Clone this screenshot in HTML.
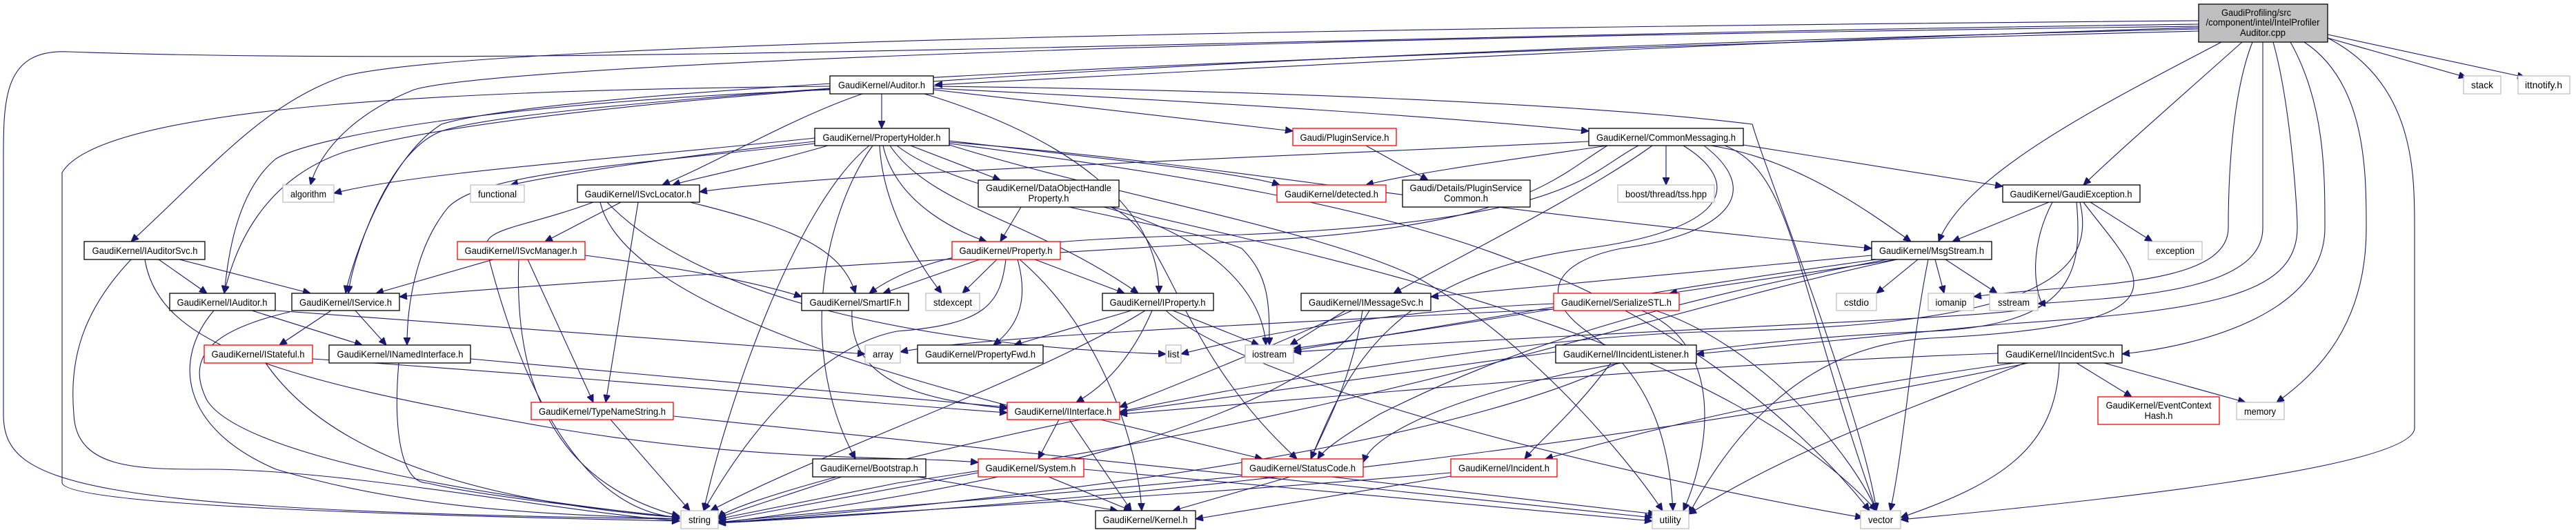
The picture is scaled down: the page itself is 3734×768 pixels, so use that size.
<!DOCTYPE html>
<html><head><meta charset="utf-8"><style>
html,body{margin:0;padding:0;background:#fff;width:3734px;height:768px;overflow:hidden}
svg{display:block}
text{font-family:"Liberation Sans",sans-serif;font-size:14px;fill:#000}
.e path{fill:none;stroke:#191970;stroke-width:1.1}
.b{fill:#fff;stroke:#000;stroke-width:1.3}
.r{fill:#fff;stroke:#ff0000;stroke-width:1.3}
.g{fill:#fff;stroke:#bfbfbf;stroke-width:1.3}
</style></head><body>
<svg width="3734" height="768" viewBox="0 0 3734 768" xmlns="http://www.w3.org/2000/svg">
<defs><marker id="a" markerWidth="12" markerHeight="10" refX="11" refY="5" orient="auto" markerUnits="userSpaceOnUse"><path d="M0,0 L11,5 L0,10 z" fill="#191970" stroke="#191970"/></marker></defs>
<g class="e" marker-end="url(#a)">
<path d="M3187 40 C2500 60,1800 100,1355 123"/>
<path d="M3187 30 C2000 40,700 60,500 110 C380 150,300 250,190 350"/>
<path d="M3187 38 C1500 60,700 100,600 130 C500 170,460 230,450 268"/>
<path d="M3187 35 C2000 50,800 100,100 75 C0 70,5 150,5 250 L5 600 C5 700,100 740,985 752"/>
<path d="M3187 45 C1800 80,800 130,640 180 C560 230,510 380,501 425"/>
<path d="M3187 42 C2000 70,800 130,500 220 C380 260,340 360,325 425"/>
<path d="M3250 61 C3150 150,3070 220,3020 268"/>
<path d="M3220 61 C3050 150,2850 250,2810 350"/>
<path d="M3265 61 C3230 150,3230 300,3230 330 C3230 420,3000 410,2861 430"/>
<path d="M3280 61 L3280 330 C3280 420,3100 430,2954 440"/>
<path d="M3295 61 C3320 150,3330 300,3330 330 C3330 430,3200 450,2900 470 C2700 490,2550 505,2459 513"/>
<path d="M3320 61 C3370 150,3370 250,3370 330 C3370 450,3200 500,3076 513"/>
<path d="M3340 61 C3430 120,3430 250,3430 330 C3430 470,3360 540,3300 583"/>
<path d="M3374 55 C3500 120,3500 250,3500 330 L3500 620 C3500 680,3000 730,2755 753"/>
<path d="M3374 55 L3575 112"/>
<path d="M3374 50 L3660 112"/>
<path d="M1278 136 L1278 186"/>
<path d="M1250 136 C1150 170,1050 230,960 268"/>
<path d="M1353 128 C1800 150,2100 170,2303 190"/>
<path d="M1353 130 C1600 160,1800 180,1874 190"/>
<path d="M1340 136 C1550 200,1680 300,1680 425"/>
<path d="M1203 128 C900 150,700 170,640 190 C560 220,510 380,505 425"/>
<path d="M1203 125 C700 130,150 150,90 250 L90 700 C100 730,500 745,985 755"/>
<path d="M1203 130 C700 150,450 200,400 230 C340 280,330 380,325 425"/>
<path d="M1353 125 C1800 130,2300 150,2540 180 C2560 250,2700 600,2720 740"/>
<path d="M1181 200 C900 230,600 250,484 280"/>
<path d="M1181 205 C950 230,800 255,740 268"/>
<path d="M1200 211 C1100 240,1000 260,975 268"/>
<path d="M1181 208 C900 240,700 250,650 300 C600 360,590 450,590 500"/>
<path d="M1260 211 C1150 300,1050 600,1020 740"/>
<path d="M1265 211 C1200 300,1150 500,1240 665"/>
<path d="M1275 211 C1280 300,1330 380,1365 425"/>
<path d="M1280 211 C1300 300,1400 340,1430 350"/>
<path d="M1290 211 C1350 300,1500 320,1650 425"/>
<path d="M1320 211 L1450 261"/>
<path d="M1376 204 C1600 230,1800 250,1855 268"/>
<path d="M1300 211 C1400 290,1700 320,1800 360 C1840 400,1840 440,1840 500"/>
<path d="M1376 208 C1700 250,2000 300,2200 380 C2400 450,2600 600,2710 740"/>
<path d="M1376 210 C1600 280,1900 330,2050 400 C2200 480,2350 650,2410 740"/>
<path d="M1376 206 C1800 240,2000 290,2713 360"/>
<path d="M1980 211 L2070 261"/>
<path d="M2303 205 C1800 230,1200 250,1014 278"/>
<path d="M2330 211 C2200 230,2050 250,1980 268"/>
<path d="M2415 211 L2415 268"/>
<path d="M2480 211 C2600 230,2700 300,2770 350"/>
<path d="M2527 210 L2903 270"/>
<path d="M2395 211 C2300 280,2100 380,2020 425"/>
<path d="M2375 211 C2300 250,2280 320,1800 340 C1500 345,1350 360,1260 425"/>
<path d="M2500 211 C2600 250,2600 400,2720 740"/>
<path d="M2470 211 C2560 280,2500 340,2350 360 C2250 380,2230 430,2300 480 C2400 550,2420 650,2425 740"/>
<path d="M2440 211 C2520 260,2520 330,2300 360 C2000 400,1950 550,1900 665"/>
<path d="M2330 211 C2250 260,2200 330,1800 350 C1300 380,800 410,579 430"/>
<path d="M900 293 L790 350"/>
<path d="M925 293 L878 583"/>
<path d="M1000 293 C1150 330,1220 360,1240 425"/>
<path d="M870 293 C900 420,1200 520,1470 590"/>
<path d="M880 293 C1000 420,1300 500,1690 513"/>
<path d="M860 293 C760 330,700 330,705 360 C740 500,820 740,985 750"/>
<path d="M715 376 L545 425"/>
<path d="M765 376 L860 583"/>
<path d="M752 376 C745 550,800 700,985 748"/>
<path d="M848 370 C1000 390,1100 410,1162 430"/>
<path d="M230 376 L300 425"/>
<path d="M260 376 L450 425"/>
<path d="M190 376 C120 450,100 520,107 600 C110 680,200 680,300 680 C500 680,800 740,985 755"/>
<path d="M210 376 C230 500,400 550,800 620 C1100 670,1300 660,1418 670"/>
<path d="M365 450 L525 500"/>
<path d="M310 450 C250 520,260 620,400 680 C600 740,800 745,985 752"/>
<path d="M400 450 C800 480,1100 500,1254 513"/>
<path d="M480 450 L405 500"/>
<path d="M515 450 L560 500"/>
<path d="M420 452 C300 480,270 520,300 580 C350 660,700 720,985 750"/>
<path d="M453 520 C900 550,1200 580,1460 598"/>
<path d="M385 526 C450 620,600 720,985 750"/>
<path d="M682 520 L1460 590"/>
<path d="M578 526 C570 620,580 700,620 700 C700 720,900 740,985 750"/>
<path d="M885 608 L1000 740"/>
<path d="M976 603 L2395 750"/>
<path d="M1480 300 L1450 350"/>
<path d="M1600 300 C1750 340,1830 420,1835 500"/>
<path d="M1610 300 C1700 340,1700 500,1880 665"/>
<path d="M1610 300 C2000 390,2500 500,2720 740"/>
<path d="M1420 376 L1280 425"/>
<path d="M1445 376 L1395 425"/>
<path d="M1500 376 L1630 425"/>
<path d="M1475 376 C1490 430,1480 470,1440 500"/>
<path d="M1458 376 C1450 440,1430 470,1300 480 C1200 500,1100 600,1020 740"/>
<path d="M1478 376 C1600 480,1650 650,1655 740"/>
<path d="M1235 450 C1230 560,1350 580,1460 592"/>
<path d="M1640 450 L1470 500"/>
<path d="M1700 450 L1825 500"/>
<path d="M1670 450 C1640 520,1600 560,1560 583"/>
<path d="M1660 450 C1500 550,1200 650,1030 740"/>
<path d="M1690 450 C1800 550,2300 680,2700 750"/>
<path d="M1535 608 L1505 665"/>
<path d="M1550 608 L1640 740"/>
<path d="M1595 608 L1830 665"/>
<path d="M1220 691 L1041 750"/>
<path d="M1330 691 L1620 740"/>
<path d="M1418 685 L1041 755"/>
<path d="M1520 691 L1640 740"/>
<path d="M1571 680 L2395 755"/>
<path d="M1870 691 L1700 740"/>
<path d="M1800 690 C1500 720,1200 740,1041 757"/>
<path d="M1930 691 L2400 745"/>
<path d="M2103 685 C1700 720,1300 740,1041 758"/>
<path d="M2103 690 L1733 752"/>
<path d="M1960 450 C1800 520,1700 560,1623 590"/>
<path d="M1950 450 L1870 500"/>
<path d="M1985 450 C1900 600,1500 700,1041 758"/>
<path d="M1975 450 C1960 550,1920 620,1900 665"/>
<path d="M2252 440 C2000 450,1800 490,1712 513"/>
<path d="M2400 450 C2550 500,2680 650,2720 740"/>
<path d="M2380 450 C2500 500,2480 650,2440 740"/>
<path d="M2252 445 L1875 508"/>
<path d="M2252 448 C1800 470,1400 490,1305 510"/>
<path d="M2713 370 L2074 430"/>
<path d="M2750 376 L2420 425"/>
<path d="M2780 376 L2720 425"/>
<path d="M2805 376 L2818 425"/>
<path d="M2820 376 L2895 425"/>
<path d="M2795 376 C2770 500,2760 650,2740 740"/>
<path d="M2750 376 C2400 450,2000 600,1300 700 C1200 720,1100 740,1041 752"/>
<path d="M2735 376 C2400 440,2200 500,2000 600 C1950 630,1920 650,1910 665"/>
<path d="M2720 376 C2400 420,2200 460,1875 505"/>
<path d="M2970 293 L2830 350"/>
<path d="M3030 293 L3120 350"/>
<path d="M3010 293 C3020 400,3000 470,2800 480 C2300 500,2000 600,1976 670"/>
<path d="M2975 293 C2940 360,2950 420,2960 440 C2980 460,2500 470,1875 510"/>
<path d="M3015 293 C3040 400,2950 470,2500 480 C2000 490,1100 700,1041 750"/>
<path d="M3020 293 C3100 400,3200 470,2800 490 C2600 500,2500 650,2448 745"/>
<path d="M2255 510 L1623 597"/>
<path d="M2335 526 C2280 600,2230 640,2210 665"/>
<path d="M2345 526 C2200 600,1800 700,1041 758"/>
<path d="M3010 526 L3090 575"/>
<path d="M3050 526 L3255 583"/>
<path d="M2896 512 C2400 530,2000 570,1623 600"/>
<path d="M2920 526 C2600 570,2400 620,2240 665"/>
<path d="M2940 526 C2600 600,1800 720,1041 758"/>
<path d="M2985 526 C2980 650,2900 700,2755 750"/>
<path d="M2935 526 C2750 600,2600 650,2448 745"/>
</g>
<g text-anchor="middle">
<rect x="3187" y="6" width="187" height="55" fill="#bfbfbf" stroke="#000" stroke-width="1.3"/>
<text x="3220" y="23" text-anchor="start" textLength="101" lengthAdjust="spacingAndGlyphs">GaudiProfiling/src</text>
<text x="3280" y="37" textLength="165" lengthAdjust="spacingAndGlyphs">/component/intel/IntelProfiler</text>
<text x="3280" y="52" textLength="66" lengthAdjust="spacingAndGlyphs">Auditor.cpp</text>

<rect class="b" x="1203" y="110" width="150" height="26"/><text x="1278" y="128" textLength="126" lengthAdjust="spacingAndGlyphs">GaudiKernel/Auditor.h</text>
<rect class="g" x="3571" y="110" width="54" height="26"/><text x="3598" y="128" textLength="32" lengthAdjust="spacingAndGlyphs">stack</text>
<rect class="g" x="3650" y="110" width="75" height="26"/><text x="3687" y="128" textLength="54" lengthAdjust="spacingAndGlyphs">ittnotify.h</text>

<rect class="b" x="1181" y="186" width="195" height="25"/><text x="1278" y="204" textLength="171" lengthAdjust="spacingAndGlyphs">GaudiKernel/PropertyHolder.h</text>
<rect class="r" x="1874" y="186" width="150" height="25"/><text x="1949" y="204" textLength="129" lengthAdjust="spacingAndGlyphs">Gaudi/PluginService.h</text>
<rect class="b" x="2303" y="186" width="224" height="25"/><text x="2415" y="204" textLength="202" lengthAdjust="spacingAndGlyphs">GaudiKernel/CommonMessaging.h</text>

<rect class="g" x="410" y="268" width="74" height="25"/><text x="447" y="286" textLength="52" lengthAdjust="spacingAndGlyphs">algorithm</text>
<rect class="g" x="682" y="268" width="78" height="25"/><text x="721" y="286" textLength="56" lengthAdjust="spacingAndGlyphs">functional</text>
<rect class="b" x="837" y="268" width="177" height="25"/><text x="925" y="286" textLength="155" lengthAdjust="spacingAndGlyphs">GaudiKernel/ISvcLocator.h</text>
<rect class="b" x="1418" y="261" width="204" height="39"/><text x="1520" y="277" textLength="182" lengthAdjust="spacingAndGlyphs">GaudiKernel/DataObjectHandle</text><text x="1520" y="292" textLength="59" lengthAdjust="spacingAndGlyphs">Property.h</text>
<rect class="r" x="1851" y="268" width="158" height="25"/><text x="1930" y="286" textLength="136" lengthAdjust="spacingAndGlyphs">GaudiKernel/detected.h</text>
<rect class="b" x="2033" y="261" width="185" height="39"/><text x="2125" y="277" textLength="163" lengthAdjust="spacingAndGlyphs">Gaudi/Details/PluginService</text><text x="2125" y="292" textLength="64" lengthAdjust="spacingAndGlyphs">Common.h</text>
<rect class="g" x="2345" y="268" width="140" height="25"/><text x="2415" y="286" textLength="118" lengthAdjust="spacingAndGlyphs">boost/thread/tss.hpp</text>
<rect class="b" x="2903" y="268" width="199" height="25"/><text x="3002" y="286" textLength="177" lengthAdjust="spacingAndGlyphs">GaudiKernel/GaudiException.h</text>

<rect class="b" x="122" y="350" width="175" height="26"/><text x="210" y="368" textLength="153" lengthAdjust="spacingAndGlyphs">GaudiKernel/IAuditorSvc.h</text>
<rect class="r" x="663" y="350" width="185" height="26"/><text x="755" y="368" textLength="163" lengthAdjust="spacingAndGlyphs">GaudiKernel/ISvcManager.h</text>
<rect class="r" x="1380" y="350" width="157" height="26"/><text x="1458" y="368" textLength="135" lengthAdjust="spacingAndGlyphs">GaudiKernel/Property.h</text>
<rect class="b" x="2713" y="350" width="174" height="26"/><text x="2800" y="368" textLength="152" lengthAdjust="spacingAndGlyphs">GaudiKernel/MsgStream.h</text>
<rect class="g" x="3114" y="350" width="78" height="26"/><text x="3153" y="368" textLength="56" lengthAdjust="spacingAndGlyphs">exception</text>

<rect class="b" x="246" y="425" width="153" height="25"/><text x="322" y="443" textLength="131" lengthAdjust="spacingAndGlyphs">GaudiKernel/IAuditor.h</text>
<rect class="b" x="423" y="425" width="156" height="25"/><text x="501" y="443" textLength="134" lengthAdjust="spacingAndGlyphs">GaudiKernel/IService.h</text>
<rect class="b" x="1162" y="425" width="155" height="25"/><text x="1240" y="443" textLength="133" lengthAdjust="spacingAndGlyphs">GaudiKernel/SmartIF.h</text>
<rect class="g" x="1342" y="425" width="78" height="25"/><text x="1381" y="443" textLength="56" lengthAdjust="spacingAndGlyphs">stdexcept</text>
<rect class="b" x="1598" y="425" width="161" height="25"/><text x="1678" y="443" textLength="139" lengthAdjust="spacingAndGlyphs">GaudiKernel/IProperty.h</text>
<rect class="b" x="1886" y="425" width="188" height="25"/><text x="1980" y="443" textLength="166" lengthAdjust="spacingAndGlyphs">GaudiKernel/IMessageSvc.h</text>
<rect class="r" x="2252" y="425" width="182" height="25"/><text x="2343" y="443" textLength="160" lengthAdjust="spacingAndGlyphs">GaudiKernel/SerializeSTL.h</text>
<rect class="g" x="2662" y="425" width="58" height="25"/><text x="2691" y="443" textLength="36" lengthAdjust="spacingAndGlyphs">cstdio</text>
<rect class="g" x="2795" y="425" width="66" height="25"/><text x="2828" y="443" textLength="45" lengthAdjust="spacingAndGlyphs">iomanip</text>
<rect class="g" x="2884" y="425" width="70" height="25"/><text x="2919" y="443" textLength="46" lengthAdjust="spacingAndGlyphs">sstream</text>

<rect class="r" x="296" y="500" width="157" height="26"/><text x="374" y="518" textLength="135" lengthAdjust="spacingAndGlyphs">GaudiKernel/IStateful.h</text>
<rect class="b" x="477" y="500" width="205" height="26"/><text x="580" y="518" textLength="183" lengthAdjust="spacingAndGlyphs">GaudiKernel/INamedInterface.h</text>
<rect class="g" x="1254" y="500" width="51" height="26"/><text x="1280" y="518" textLength="30" lengthAdjust="spacingAndGlyphs">array</text>
<rect class="b" x="1330" y="500" width="182" height="26"/><text x="1421" y="518" textLength="160" lengthAdjust="spacingAndGlyphs">GaudiKernel/PropertyFwd.h</text>
<rect class="g" x="1690" y="500" width="22" height="26"/><text x="1701" y="518">list</text>
<rect class="g" x="1805" y="500" width="70" height="26"/><text x="1840" y="518" textLength="50" lengthAdjust="spacingAndGlyphs">iostream</text>
<rect class="b" x="2255" y="500" width="204" height="26"/><text x="2357" y="518" textLength="182" lengthAdjust="spacingAndGlyphs">GaudiKernel/IIncidentListener.h</text>
<rect class="b" x="2896" y="500" width="180" height="26"/><text x="2986" y="518" textLength="158" lengthAdjust="spacingAndGlyphs">GaudiKernel/IIncidentSvc.h</text>

<rect class="r" x="770" y="583" width="206" height="25"/><text x="873" y="601" textLength="184" lengthAdjust="spacingAndGlyphs">GaudiKernel/TypeNameString.h</text>
<rect class="r" x="1460" y="583" width="163" height="25"/><text x="1541" y="601" textLength="141" lengthAdjust="spacingAndGlyphs">GaudiKernel/IInterface.h</text>
<rect class="r" x="3041" y="575" width="176" height="40"/><text x="3129" y="592" textLength="153" lengthAdjust="spacingAndGlyphs">GaudiKernel/EventContext</text><text x="3129" y="607" textLength="41" lengthAdjust="spacingAndGlyphs">Hash.h</text>
<rect class="g" x="3242" y="583" width="69" height="25"/><text x="3276" y="601" textLength="46" lengthAdjust="spacingAndGlyphs">memory</text>

<rect class="b" x="1178" y="665" width="164" height="26"/><text x="1260" y="683" textLength="142" lengthAdjust="spacingAndGlyphs">GaudiKernel/Bootstrap.h</text>
<rect class="r" x="1418" y="665" width="153" height="26"/><text x="1494" y="683" textLength="131" lengthAdjust="spacingAndGlyphs">GaudiKernel/System.h</text>
<rect class="r" x="1800" y="665" width="176" height="26"/><text x="1888" y="683" textLength="154" lengthAdjust="spacingAndGlyphs">GaudiKernel/StatusCode.h</text>
<rect class="r" x="2103" y="665" width="154" height="26"/><text x="2180" y="683" textLength="132" lengthAdjust="spacingAndGlyphs">GaudiKernel/Incident.h</text>

<rect class="g" x="987" y="740" width="54" height="26"/><text x="1014" y="758" textLength="32" lengthAdjust="spacingAndGlyphs">string</text>
<rect class="b" x="1588" y="740" width="145" height="26"/><text x="1660" y="758" textLength="123" lengthAdjust="spacingAndGlyphs">GaudiKernel/Kernel.h</text>
<rect class="g" x="2395" y="740" width="53" height="26"/><text x="2421" y="758" textLength="31" lengthAdjust="spacingAndGlyphs">utility</text>
<rect class="g" x="2697" y="740" width="58" height="26"/><text x="2726" y="758" textLength="36" lengthAdjust="spacingAndGlyphs">vector</text>
</g>
</svg>
</body></html>
